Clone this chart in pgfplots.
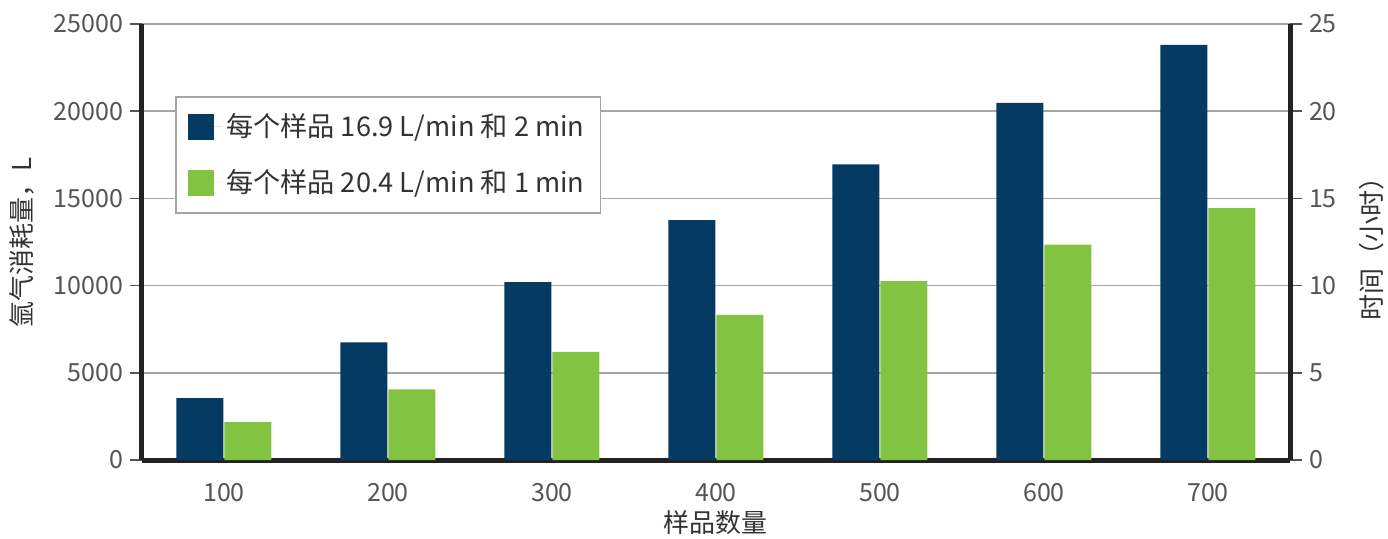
\documentclass[border=0pt]{standalone}
\usepackage{pgfplots}
\pgfplotsset{compat=1.18}
\usepackage{fontspec}
\setmainfont{Noto Sans CJK SC}

\definecolor{navy}{HTML}{053A63}
\definecolor{lgreen}{HTML}{82C341}
\definecolor{tickgray}{HTML}{555555}
\definecolor{gridgray}{HTML}{A3A6A9}
\definecolor{axisblack}{HTML}{222222}
\definecolor{textgray}{HTML}{333333}

\pgfplotsset{
  common/.style={
    scale only axis, width=574pt, height=218pt,
    xmin=-0.5, xmax=6.5,
    axis line style={line width=2.5pt, color=axisblack},
    tick align=outside, major tick length=6pt,
    ytick style={tickgray, line width=0.8pt},
    ticklabel style={font=\fontsize{12.5pt}{15pt}\selectfont, text=tickgray},
    /pgf/number format/assume math mode=true,
    /pgf/number format/1000 sep={},
    scaled y ticks=false,
    label style={font=\fontsize{13pt}{16pt}\selectfont, text=textgray},
  }
}

\begin{document}
\begin{tikzpicture}
\useasboundingbox (-71pt,-39pt) rectangle (623pt,230pt);
\begin{axis}[
  common,
  ymin=0, ymax=25000,
  axis x line*=bottom, axis y line*=left,
  xtick={0,...,6}, xticklabels={100,200,300,400,500,600,700},
  xtick style={draw=none},
  xticklabel style={yshift=-2pt},
  ytick={0,5000,...,25000},
  ymajorgrids, grid style={gridgray, line width=0.8pt},
  ybar=0.5pt, bar width=23.5pt,
  xlabel={样品数量},
  xlabel style={at={(axis description cs:0.5,-0.1445)}, anchor=center},
  ylabel={氩气消耗量，L},
  ylabel style={at={(axis description cs:-0.1045,0.5)}, anchor=center, rotate=0},
  legend style={at={(0.029,0.835)}, anchor=north west, draw=gridgray, line width=0.8pt,
    font=\fontsize{13.6pt}{16pt}\selectfont, text=textgray,
    inner xsep=6pt, inner ysep=6.5pt, row sep=11pt},
  legend cell align=left,
]
\addplot[fill=navy, draw=none,
  legend image code/.code={\fill[navy] (0pt,-6.5pt) rectangle (13pt,6.5pt); \path (0pt,0pt) -- (17pt,0pt);}]
  coordinates {(0,3550) (1,6750) (2,10200) (3,13750) (4,16950) (5,20480) (6,23800)};
\addplot[fill=lgreen, draw=none,
  legend image code/.code={\fill[lgreen] (0pt,-6.5pt) rectangle (13pt,6.5pt); \path (0pt,0pt) -- (17pt,0pt);}]
  coordinates {(0,2170) (1,4050) (2,6200) (3,8320) (4,10250) (5,12350) (6,14450)};
\legend{每个样品 16.9 L/min 和 2 min, 每个样品 20.4 L/min 和 1 min}
\end{axis}
\begin{axis}[
  common,
  ymin=0, ymax=25,
  axis x line=none, axis y line*=right,
  ytick={0,5,...,25},
  ylabel={时间（小时）},
  ylabel style={at={(axis description cs:1.0714,0.5)}, anchor=center, rotate=0},
]
\end{axis}
\end{tikzpicture}
\end{document}
